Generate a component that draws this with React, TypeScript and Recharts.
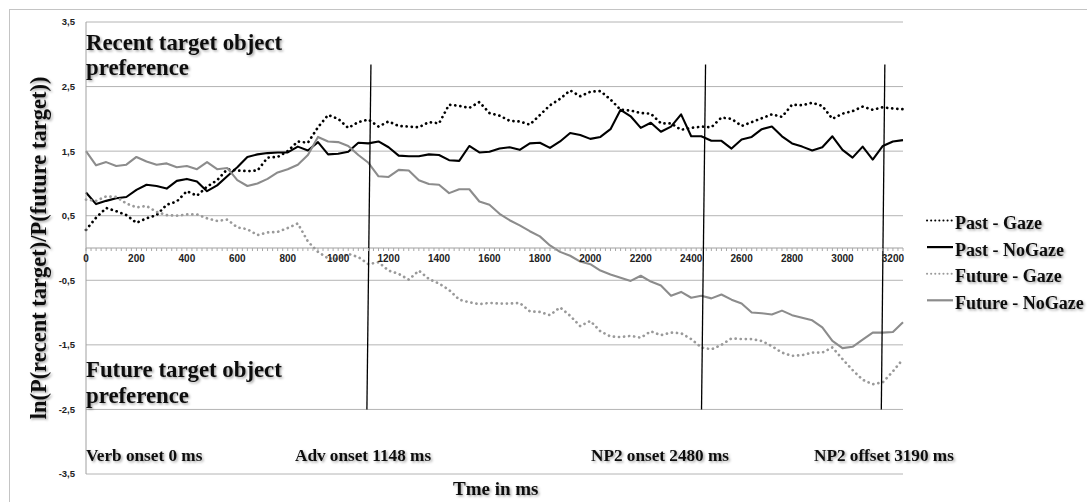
import React from 'react';
import {
  LineChart,
  Line,
  XAxis,
  YAxis,
  CartesianGrid,
  ReferenceLine,
} from 'recharts';

// time in ms, one sample every 40 ms
const times = [
  0, 40, 80, 120, 160, 200, 240, 280, 320, 360,
  400, 440, 480, 520, 560, 600, 640, 680, 720, 760,
  800, 840, 880, 920, 960, 1000, 1040, 1080, 1120, 1160,
  1200, 1240, 1280, 1320, 1360, 1400, 1440, 1480, 1520, 1560,
  1600, 1640, 1680, 1720, 1760, 1800, 1840, 1880, 1920, 1960,
  2000, 2040, 2080, 2120, 2160, 2200, 2240, 2280, 2320, 2360,
  2400, 2440, 2480, 2520, 2560, 2600, 2640, 2680, 2720, 2760,
  2800, 2840, 2880, 2920, 2960, 3000, 3040, 3080, 3120, 3160,
  3200, 3240,
];

const pastGaze = [
  0.28, 0.47, 0.62, 0.57, 0.51, 0.39, 0.46, 0.51, 0.67, 0.72,
  0.88, 0.81, 0.95, 1.05, 1.22, 1.2, 1.19, 1.2, 1.4, 1.41,
  1.5, 1.65, 1.63, 1.87, 2.06, 2.0, 1.86, 1.95, 1.99, 1.88,
  1.96, 1.89, 1.88, 1.87, 1.95, 1.93, 2.22, 2.2, 2.17, 2.26,
  2.09, 2.05, 1.97, 1.96, 1.91, 2.06, 2.21, 2.31, 2.44, 2.35,
  2.42, 2.43, 2.3, 2.14, 2.13, 2.09, 2.08, 1.93, 1.93, 1.83,
  1.86, 1.88, 1.87, 2.02, 2.0, 1.89, 1.95, 2.01, 2.07, 2.03,
  2.22, 2.21, 2.25, 2.2, 2.0, 2.08, 2.12, 2.19, 2.14, 2.18,
  2.16, 2.15,
];

const pastNoGaze = [
  0.86, 0.68, 0.73, 0.77, 0.79, 0.9, 0.98, 0.96, 0.92, 1.04,
  1.07, 1.03, 0.88, 0.97, 1.11, 1.25, 1.41, 1.45, 1.47, 1.48,
  1.48, 1.57, 1.51, 1.64, 1.45, 1.46, 1.49, 1.63, 1.62, 1.65,
  1.56, 1.43, 1.42, 1.42, 1.45, 1.44, 1.36, 1.35, 1.58, 1.48,
  1.49, 1.54, 1.56, 1.52, 1.62, 1.63, 1.55, 1.65, 1.78, 1.75,
  1.69, 1.72, 1.84, 2.14, 2.04, 1.86, 1.94, 1.8, 1.88, 2.07,
  1.73, 1.73, 1.66, 1.66, 1.54, 1.68, 1.72, 1.84, 1.88, 1.73,
  1.62, 1.57, 1.51, 1.56, 1.73, 1.52, 1.4, 1.57, 1.37, 1.58,
  1.65, 1.67,
];

const futureGaze = [
  0.75, 0.73, 0.8, 0.79, 0.69, 0.63, 0.65, 0.56, 0.51, 0.5,
  0.52, 0.52, 0.46, 0.42, 0.44, 0.32, 0.29, 0.2, 0.24, 0.25,
  0.31, 0.38, 0.1, -0.06, -0.16, -0.17, -0.09, -0.14, -0.25, -0.22,
  -0.35, -0.4, -0.49, -0.35, -0.48, -0.55, -0.65, -0.8, -0.84, -0.87,
  -0.85, -0.86, -0.86, -0.85, -0.98, -0.99, -1.04, -0.92, -1.05, -1.21,
  -1.13, -1.29, -1.37, -1.38, -1.36, -1.39, -1.29, -1.35, -1.31, -1.32,
  -1.41, -1.54, -1.57, -1.5, -1.4, -1.41, -1.41, -1.44, -1.52, -1.62,
  -1.67, -1.66, -1.62, -1.62, -1.54, -1.72, -1.89, -2.04, -2.11, -2.08,
  -1.91, -1.72,
];

const futureNoGaze = [
  1.5, 1.28, 1.33, 1.27, 1.29, 1.41, 1.34, 1.29, 1.31, 1.25,
  1.27, 1.22, 1.33, 1.22, 1.24, 1.05, 0.96, 1.0, 1.07, 1.17,
  1.22, 1.29, 1.44, 1.72, 1.65, 1.64, 1.58, 1.44, 1.32, 1.11,
  1.1, 1.21, 1.2, 1.05, 0.99, 0.98, 0.85, 0.91, 0.91, 0.72,
  0.67, 0.53, 0.43, 0.35, 0.26, 0.18, 0.04, -0.06, -0.12, -0.21,
  -0.25, -0.35, -0.41, -0.46, -0.51, -0.43, -0.52, -0.58, -0.74, -0.68,
  -0.77, -0.74, -0.78, -0.72, -0.8, -0.86, -1.0, -1.01, -1.03, -0.97,
  -1.04, -1.08, -1.12, -1.23, -1.44, -1.55, -1.53, -1.42, -1.31, -1.31,
  -1.3, -1.15,
];

const yTicks = [-3.5, -2.5, -1.5, -0.5, 0.5, 1.5, 2.5, 3.5];
const xLabelStep = 200;
const xTickStep = 20;
const xMax = 3240;

// event lines (they lean slightly in the original drawing)
const markers = [
  { top: 1130, bottom: 1114 },
  { top: 2457, bottom: 2441 },
  { top: 3168, bottom: 3154 },
];
const markerTopY = 2.84;
const markerBottomY = -2.5;

const eventLabels = [
  { text: 'Verb onset 0 ms', x: 86 },
  { text: 'Adv onset 1148 ms', x: 295 },
  { text: 'NP2 onset 2480 ms', x: 591 },
  { text: 'NP2 offset 3190 ms', x: 814 },
];

const series = [
  { key: 'pastGaze', name: 'Past - Gaze', color: '#000000', dotted: true },
  { key: 'pastNoGaze', name: 'Past - NoGaze', color: '#000000', dotted: false },
  { key: 'futureGaze', name: 'Future - Gaze', color: '#9a9a9a', dotted: true },
  { key: 'futureNoGaze', name: 'Future - NoGaze', color: '#8c8c8c', dotted: false },
];

const data = times.map((t, i) => ({
  t,
  pastGaze: pastGaze[i],
  pastNoGaze: pastNoGaze[i],
  futureGaze: futureGaze[i],
  futureNoGaze: futureNoGaze[i],
}));

const xTicks: number[] = [];
for (let v = 0; v <= xMax; v += xTickStep) xTicks.push(v);

const W = 1087;
const H = 502;
const X_AXIS_H = 1;
const MARGIN = { top: 22, right: 184, bottom: 28 - X_AXIS_H, left: 46 };
const PLOT_H = H - 22 - 28;
const Y_MIN = -3.5;
const Y_MAX = 3.5;

const SERIF = '"Liberation Serif", "Times New Roman", serif';
const SANS = '"Liberation Sans", Arial, sans-serif';

// the category axis crosses at y = 0, so the ticks are drawn up there
const ZeroAxisTick = (props: any) => {
  const { x, y, payload } = props;
  const zeroY = y - (PLOT_H * (0 - Y_MIN)) / (Y_MAX - Y_MIN);
  const v = payload.value;
  return (
    <g>
      <line x1={x} x2={x} y1={zeroY} y2={zeroY + 3} stroke="#a8a8a8" strokeWidth={1} />
      {v % xLabelStep === 0 && (
        <text
          x={x}
          y={zeroY + 14}
          textAnchor="middle"
          fontFamily={SANS}
          fontWeight="bold"
          fontSize={10}
          fill="#222"
        >
          {v}
        </text>
      )}
    </g>
  );
};

const shadow = 'url(#txtShadow)';

export default function App() {
  return (
    <div
      style={{
        position: 'absolute',
        left: 0,
        top: 0,
        width: W,
        height: H,
        overflow: 'hidden',
        background: '#fff',
      }}
    >
      <div
        style={{
          position: 'absolute',
          left: 9,
          top: 9,
          width: 1100,
          height: 520,
          border: '1px solid #c4c4c4',
        }}
      />
      <div style={{ position: 'absolute', left: 0, top: 0 }}>
        <LineChart width={W} height={H} data={data} margin={MARGIN}>
          <CartesianGrid horizontal vertical={false} stroke="#b4b4b4" strokeWidth={1} />
          <XAxis
            dataKey="t"
            type="number"
            domain={[0, xMax]}
            ticks={xTicks}
            interval={0}
            height={X_AXIS_H}
            axisLine={false}
            tickLine={false}
            tickSize={0}
            tickMargin={0}
            tick={(p: any) => <ZeroAxisTick {...p} />}
          />
          <YAxis
            type="number"
            domain={[Y_MIN, Y_MAX]}
            ticks={yTicks}
            interval={0}
            width={40}
            axisLine={{ stroke: '#a0a0a0' }}
            tickLine={false}
            tickSize={0}
            tickMargin={11}
            tickFormatter={(v: number) => String(v).replace('.', ',')}
            tick={{ fontFamily: SANS, fontWeight: 'bold', fontSize: 9.5, fill: '#222' }}
          />
          <ReferenceLine y={0} stroke="#a0a0a0" strokeWidth={1} />
          {series.map((s) => (
            <Line
              key={s.key}
              dataKey={s.key}
              name={s.name}
              type="linear"
              stroke={s.color}
              strokeWidth={s.dotted ? 2.7 : 2.1}
              strokeDasharray={s.dotted ? '0.1 5' : undefined}
              strokeLinecap={s.dotted ? 'round' : 'butt'}
              strokeLinejoin="round"
              dot={false}
              activeDot={false}
              isAnimationActive={false}
            />
          ))}
          {markers.map((m, i) => (
            <ReferenceLine
              key={i}
              segment={[
                { x: m.top, y: markerTopY },
                { x: m.bottom, y: markerBottomY },
              ]}
              stroke="#000"
              strokeWidth={1.3}
            />
          ))}
        </LineChart>
      </div>
      <svg
        width={W}
        height={H}
        style={{ position: 'absolute', left: 0, top: 0, pointerEvents: 'none' }}
      >
        <defs>
          <filter id="txtShadow" x="-10%" y="-30%" width="120%" height="160%">
            <feDropShadow dx="1.5" dy="1.5" stdDeviation="1" floodColor="#000" floodOpacity="0.35" />
          </filter>
        </defs>
        <g fontFamily={SERIF} fontWeight="bold" fill="#111" filter={shadow}>
          <text x={86} y={50} fontSize={22.8}>Recent target object</text>
          <text x={86} y={75} fontSize={22.8}>preference</text>
          <text x={86} y={377} fontSize={22.8}>Future target object</text>
          <text x={86} y={403} fontSize={22.8}>preference</text>
          {eventLabels.map((l) => (
            <text key={l.text} x={l.x} y={461} fontSize={17.2}>
              {l.text}
            </text>
          ))}
          <text x={453} y={495} fontSize={19}>Tme in ms</text>
          <text
            transform="translate(46,248) rotate(-90)"
            textAnchor="middle"
            fontSize={22.5}
          >
            ln(P(recent target)/P(future target))
          </text>
        </g>
        {series.map((s, i) => {
          const base = 229 + i * 26.6;
          return (
            <g key={s.key}>
              <line
                x1={927}
                x2={953}
                y1={base - 8.5}
                y2={base - 8.5}
                stroke={s.color}
                strokeWidth={s.dotted ? 2 : 2.2}
                strokeDasharray={s.dotted ? '0.1 4' : undefined}
                strokeLinecap={s.dotted ? 'round' : 'butt'}
              />
              <text
                x={955}
                y={base}
                fontFamily={SERIF}
                fontWeight="bold"
                fontSize={18}
                fill="#111"
                filter={shadow}
              >
                {s.name}
              </text>
            </g>
          );
        })}
      </svg>
    </div>
  );
}
